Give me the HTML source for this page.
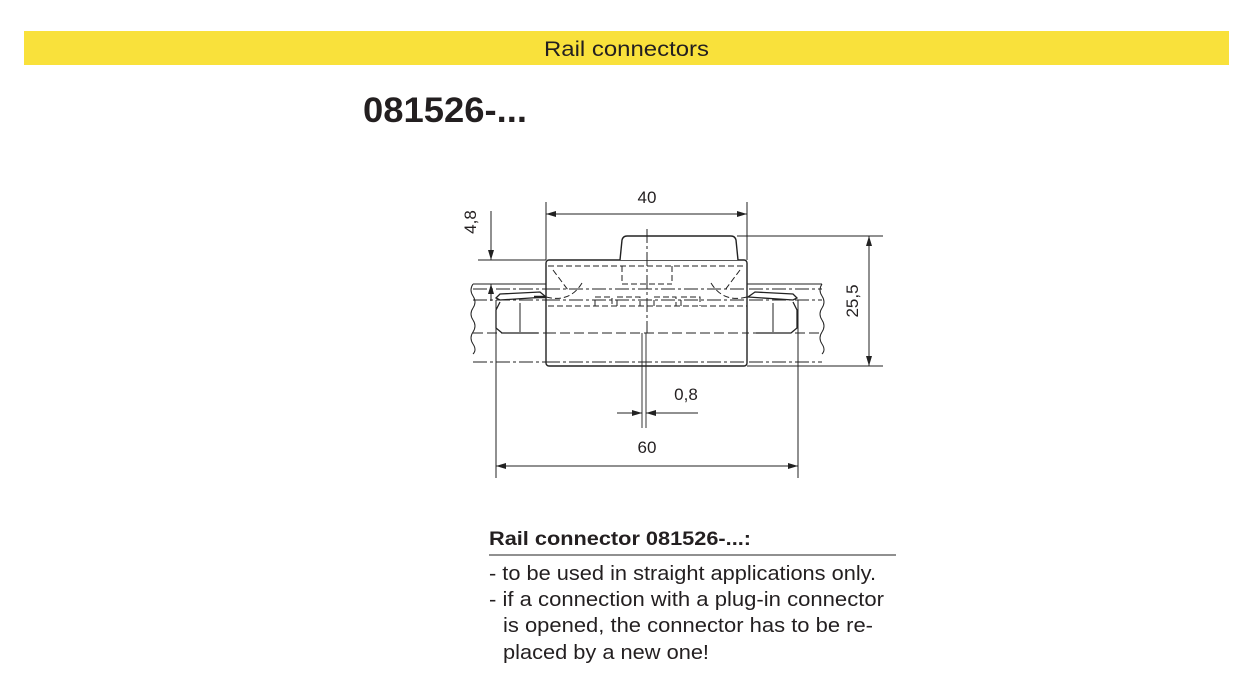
<!DOCTYPE html>
<html><head><meta charset="utf-8"><style>
html,body{margin:0;padding:0;background:#fff;}
svg{display:block;}
text{font-family:"Liberation Sans",sans-serif;fill:#231f20;}
</style></head><body>
<svg width="1254" height="696" viewBox="0 0 1254 696" xmlns="http://www.w3.org/2000/svg">
<defs>
<marker id="a" viewBox="0 0 10 6" refX="10" refY="3" markerWidth="10" markerHeight="6" orient="auto-start-reverse" markerUnits="userSpaceOnUse"><path d="M0,0 L10,3 L0,6z" fill="#222"/></marker>
</defs>
<rect x="24" y="31" width="1205" height="34" fill="#f9e13b"/>
<text x="544" y="56" font-size="21.5" textLength="165" lengthAdjust="spacingAndGlyphs">Rail connectors</text>
<text x="363" y="122" font-size="35" font-weight="bold" textLength="164" lengthAdjust="spacingAndGlyphs">081526-...</text>

<g stroke="#222" fill="none" stroke-width="1">
<!-- rails -->
<path d="M473,284 H822"/>
<path d="M473,289 H822" stroke-dasharray="14,3,3,3"/>
<path d="M473,300 H822" stroke-dasharray="14,3,3,3"/>
<path d="M473,333 H822" stroke-dasharray="10,4"/>
<path d="M473,362 H822" stroke-dasharray="14,3,3,3"/>
<path d="M473,284 q-4,6 0,12 q4,6 0,12 q-4,6 0,12 q4,6 0,12 q-4,6 0,12 q4,6 0,10" />
<path d="M822,284 q-4,6 0,12 q4,6 0,12 q-4,6 0,12 q4,6 0,12 q-4,6 0,12 q4,6 0,10" />
<!-- end pieces -->
<path d="M496,298 L500,294 L540,292 L546,297 L500,300 Z" stroke-width="1.3"/>
<path d="M500,302 L496,310 L496,328 L502,333 L538,333" stroke-width="1.3"/>
<path d="M520,303 V332"/>
<path d="M546,297 H534" stroke-width="2.5"/>
<path d="M797,298 L793,294 L755,292 L748,297 L793,300 Z" stroke-width="1.3"/>
<path d="M793,302 L797,310 L797,328 L791,333 L756,333" stroke-width="1.3"/>
<path d="M773,303 V332"/>
<!-- body -->
<rect x="546" y="260" width="201" height="106" rx="3" stroke-width="1.4" fill="#fff"/>
<path d="M620,260 L622,240 Q623,236 627,236 H731 Q735,236 736,240 L738,260" stroke-width="1.4" fill="#fff"/>
<g stroke-dasharray="6,3">
<path d="M548,266 H745"/>
<path d="M622,266 V284 M672,266 V284 M622,284 H672"/>
<path d="M553,270 L568,290 M740,270 L725,290"/>
<path d="M546,297 Q570,303 582,283"/>
<path d="M747,297 Q723,303 711,283"/>
<path d="M548,306 H747"/>
<path d="M595,306 V297 H612 V306 M617,306 V297 H640 V306 M654,306 V297 H676 V306 M681,306 V297 H700 V306"/>
</g>
<path d="M546,289 H747 M546,300 H747" stroke-dasharray="14,3,3,3"/>
<path d="M546,333 H747" stroke-dasharray="10,4"/>
<path d="M546,362 H747" stroke-dasharray="14,3,3,3"/>
<!-- centerline -->
<path d="M647,229 V333" stroke-dasharray="14,3,3,3"/>
<path d="M642,333 V428 M646,333 V428" stroke-width="0.9"/>
<!-- dims -->
<path d="M546,202 V260 M747,202 V260"/>
<path d="M546,214 H747" marker-start="url(#a)" marker-end="url(#a)"/>
<path d="M737,236 H883 M747,366 H883"/>
<path d="M869,236 V366" marker-start="url(#a)" marker-end="url(#a)"/>
<path d="M478,260 H546"/>
<path d="M491,211 V260" marker-end="url(#a)"/>
<path d="M491,284 V301" marker-start="url(#a)"/>
<path d="M496,300 V478 M798,300 V478"/>
<path d="M496,466 H798" marker-start="url(#a)" marker-end="url(#a)"/>
<path d="M617,413 H642" marker-end="url(#a)"/>
<path d="M646,413 H698" marker-start="url(#a)"/>
</g>
<text x="647" y="203" font-size="17" text-anchor="middle">40</text>
<text x="647" y="453" font-size="17" text-anchor="middle">60</text>
<text x="686" y="400" font-size="17" text-anchor="middle">0,8</text>
<text transform="translate(858,301) rotate(-90)" font-size="17" text-anchor="middle">25,5</text>
<text transform="translate(476,222) rotate(-90)" font-size="17" text-anchor="middle">4,8</text>

<text x="489" y="545" font-size="19.5" font-weight="bold" textLength="262" lengthAdjust="spacingAndGlyphs">Rail connector 081526-...:</text>
<path d="M489,555 H896" stroke="#222" stroke-width="1"/>
<text x="489" y="580" font-size="20" textLength="387" lengthAdjust="spacingAndGlyphs">- to be used in straight applications only.</text>
<text x="489" y="606" font-size="20" textLength="395" lengthAdjust="spacingAndGlyphs">-  if a connection with a plug-in connector</text>
<text x="503" y="632" font-size="20" textLength="370" lengthAdjust="spacingAndGlyphs">is opened, the connector has to be re-</text>
<text x="503" y="659" font-size="20" textLength="206" lengthAdjust="spacingAndGlyphs">placed by a new one!</text>
</svg>
</body></html>
